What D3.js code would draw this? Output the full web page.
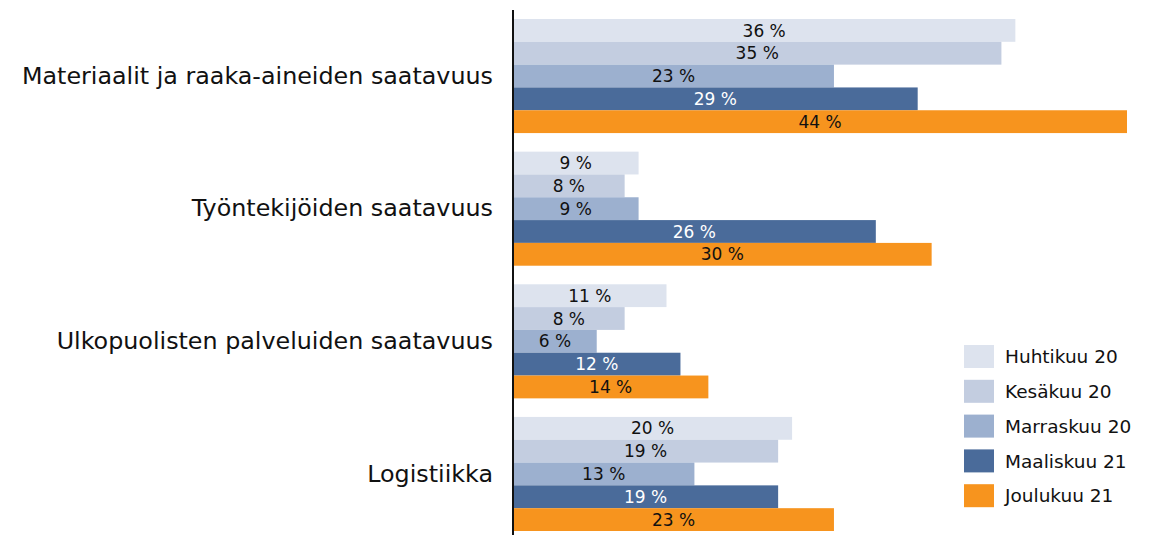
<!DOCTYPE html>
<html>
<head>
<meta charset="utf-8">
<script src="https://cdn.jsdelivr.net/npm/d3@7"></script>
<style>
  html, body { margin: 0; padding: 0; background: #fff; }
  svg { display: block; }
  text { font-family: "DejaVu Sans", sans-serif; }
</style>
</head>
<body>
<svg id="chart" width="1155" height="535"></svg>
<script>
// Categories (top to bottom)
const categories = [
  "Materiaalit ja raaka-aineiden saatavuus",
  "Työntekijöiden saatavuus",
  "Ulkopuolisten palveluiden saatavuus",
  "Logistiikka"
];
// Survey rounds
const seriesNames = ["Huhtikuu 20", "Kesäkuu 20", "Marraskuu 20", "Maaliskuu 21", "Joulukuu 21"];
// Share of respondents (%) per round, in category order
const huhtikuu20  = [36, 9, 11, 20];
const kesakuu20   = [35, 8, 8, 19];
const marraskuu20 = [23, 9, 6, 13];
const maaliskuu21 = [29, 26, 12, 19];
const joulukuu21  = [44, 30, 14, 23];
const seriesValues = [huhtikuu20, kesakuu20, marraskuu20, maaliskuu21, joulukuu21];

const colors = ["#dde3ee", "#c3cde0", "#9cb0cf", "#4a6b9a", "#f7941e"];
const labelColors = ["#111", "#111", "#111", "#fff", "#111"];

const svg = d3.select("#chart");

const x = d3.scaleLinear().domain([0, 44]).range([513, 1127]);
const y = d3.scaleBand().domain(categories).range([19, 531]).paddingInner(0.14);
const ySub = d3.scaleBand().domain(d3.range(seriesNames.length)).range([0, y.bandwidth()]);

const groups = svg.selectAll("g.cat")
  .data(categories)
  .join("g")
  .attr("class", "cat")
  .attr("transform", d => `translate(0,${y(d)})`);

groups.each(function (cat, ci) {
  const g = d3.select(this);
  seriesValues.forEach((vals, si) => {
    const v = vals[ci];
    g.append("rect")
      .attr("x", x(0))
      .attr("y", ySub(si))
      .attr("width", x(v) - x(0))
      .attr("height", ySub.bandwidth())
      .attr("fill", colors[si]);
    g.append("text")
      .attr("x", (x(0) + x(v)) / 2)
      .attr("y", ySub(si) + ySub.bandwidth() / 2)
      .attr("dy", "0.36em")
      .attr("text-anchor", "middle")
      .attr("font-size", 17)
      .attr("fill", labelColors[si])
      .text(`${v} %`);
  });
});

// Category axis
const yAxis = d3.axisLeft(y).tickSize(0).tickPadding(20);
const ag = svg.append("g").attr("transform", `translate(${x(0)},0)`).call(yAxis);
ag.select(".domain").remove();
ag.selectAll("text").attr("font-size", 23.8).attr("fill", "#111")
  .style("font-family", '"DejaVu Sans", sans-serif');
svg.append("line")
  .attr("x1", x(0)).attr("x2", x(0))
  .attr("y1", 10).attr("y2", 535)
  .attr("stroke", "#111").attr("stroke-width", 2);

// Legend
const legend = svg.append("g").attr("transform", "translate(964,345)");
const li = legend.selectAll("g").data(seriesNames).join("g")
  .attr("transform", (d, i) => `translate(0,${i * 34.8})`);
li.append("rect").attr("width", 30).attr("height", 23).attr("fill", (d, i) => colors[i]);
li.append("text").attr("x", 41).attr("y", 11.5).attr("dy", "0.36em")
  .attr("font-size", 18.5).attr("fill", "#111").text(d => d);
</script>
</body>
</html>
